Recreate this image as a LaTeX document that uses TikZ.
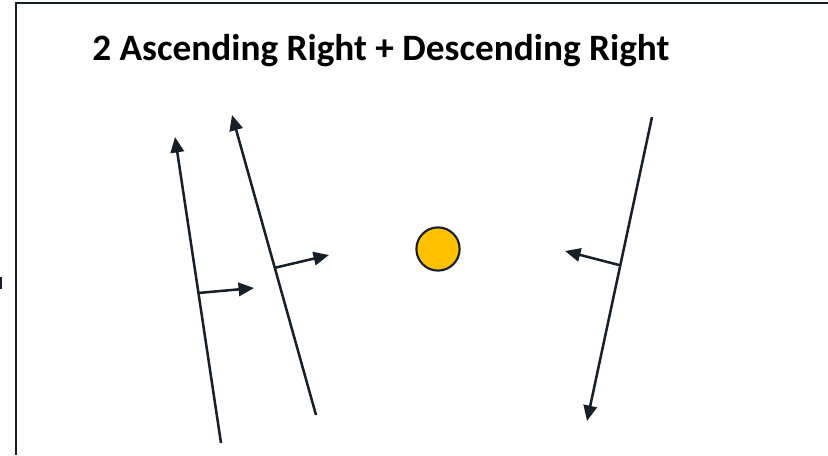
\documentclass[tikz,border=0pt]{standalone}
\usepackage{fontspec}
\setmainfont{Carlito}
\usetikzlibrary{arrows.meta}
\definecolor{inkcol}{RGB}{23,31,40}
\definecolor{suncol}{RGB}{255,192,0}
\tikzset{
  seamline/.style={line width=1.8pt, inkcol, -{Triangle[length=11pt,width=9.5pt]}},
  normarrow/.style={line width=1.8pt, inkcol, -{Triangle[length=11pt,width=9.5pt]}},
  framed/.style={line width=1.5pt, inkcol},
  sunnode/.style={circle, draw=inkcol, line width=1.5pt, fill=suncol,
    minimum size=1.08cm, inner sep=0pt},
}
\begin{document}
\begin{tikzpicture}[x=0.025cm, y=-0.025cm]
  \useasboundingbox (0,0) rectangle (828,455);

  % -- frame --
  \draw[framed] (16,455) -- (16,3) -- (828,3);
  \draw[framed] (1,277) -- (1,289);

  % -- title --
  \node[anchor=base west, font=\bfseries\fontsize{26.5}{32}\selectfont, inner sep=0pt]
    (title) at (92,60) {2 Ascending Right + Descending Right};

  % -- centre --
  \node[sunnode] (sun) at (438,249) {};

  % -- ascending 1 --
  \coordinate (a1s) at (221,443);
  \coordinate (a1e) at (175,137);
  \coordinate (a1m) at (198,293);
  \coordinate (a1n) at (254,288);
  \draw[seamline] (a1s) -- (a1e);
  \draw[normarrow] (a1m) -- (a1n);

  % -- ascending 2 --
  \coordinate (a2s) at (316,415);
  \coordinate (a2e) at (232,115);
  \coordinate (a2m) at (274,268);
  \coordinate (a2n) at (329,255);
  \draw[seamline] (a2s) -- (a2e);
  \draw[normarrow] (a2m) -- (a2n);

  % -- descending --
  \coordinate (d1s) at (652,117);
  \coordinate (d1e) at (587,421);
  \coordinate (d1m) at (619,265);
  \coordinate (d1n) at (565,251);
  \draw[seamline] (d1s) -- (d1e);
  \draw[normarrow] (d1m) -- (d1n);
\end{tikzpicture}
\end{document}
